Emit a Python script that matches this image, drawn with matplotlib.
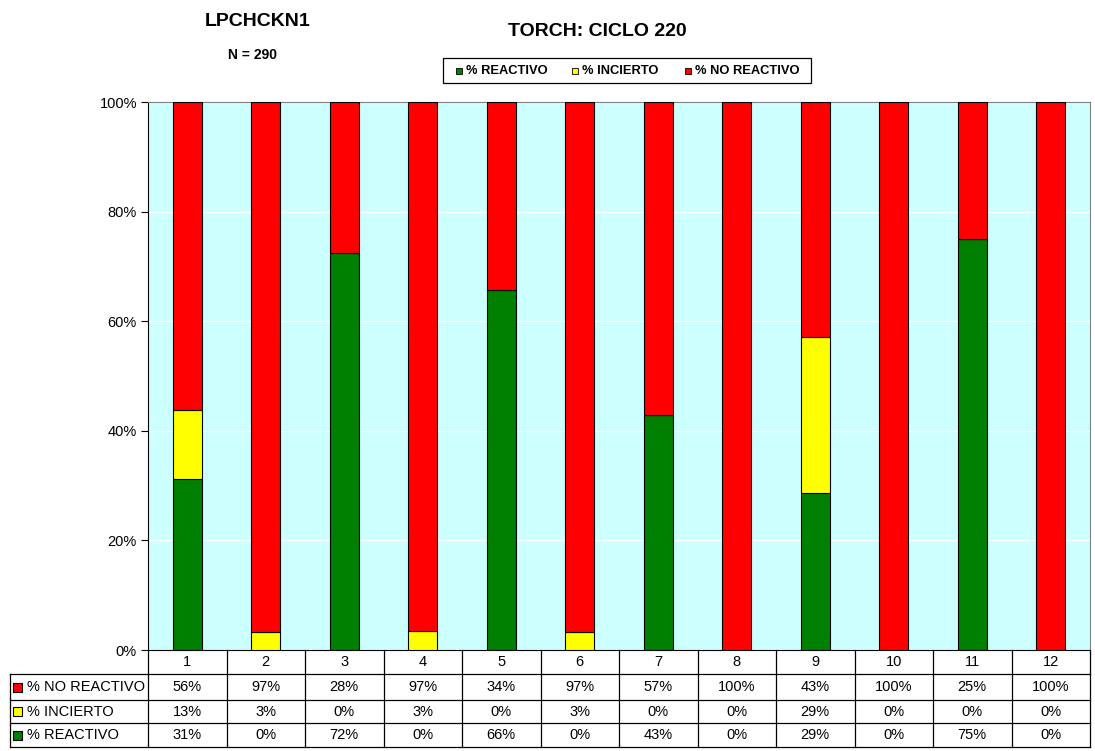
import numpy as np
import matplotlib.pyplot as plt
import matplotlib.transforms as mtransforms
from matplotlib.lines import Line2D
from matplotlib.patches import Rectangle

plt.rcParams['font.family'] = ['Liberation Sans', 'DejaVu Sans']

# Datos
categorias = ['1', '2', '3', '4', '5', '6', '7', '8', '9', '10', '11', '12']
reactivo = [31.25, 0, 72.4, 0, 65.7, 0, 42.86, 0, 28.57, 0, 75, 0]
incierto = [12.5, 3.3, 0, 3.5, 0, 3.3, 0, 0, 28.57, 0, 0, 0]
no_reactivo = [56.25, 96.7, 27.6, 96.5, 34.3, 96.7, 57.14, 100, 42.86, 100, 25, 100]
# valores mostrados en la tabla (redondeados como en el original)
tabla_no_reactivo = [56, 97, 28, 97, 34, 97, 57, 100, 43, 100, 25, 100]
tabla_incierto = [13, 3, 0, 3, 0, 3, 0, 0, 29, 0, 0, 0]
tabla_reactivo = [31, 0, 72, 0, 66, 0, 43, 0, 29, 0, 75, 0]
series = ['% NO REACTIVO', '% INCIERTO', '% REACTIVO']
colores = {'% REACTIVO': '#008000', '% INCIERTO': '#FFFF00', '% NO REACTIVO': '#FF0000'}

W, H = 1095, 751
fig = plt.figure(figsize=(W / 100, H / 100), dpi=100)
ax = fig.add_axes([148 / W, 1 - 650 / H, (1090 - 148) / W, (650 - 102) / H])
ax.set_facecolor('#CCFFFF')

x = np.arange(1, len(categorias) + 1)
ancho = 0.37
r = np.array(reactivo)
i_ = np.array(incierto)
n = np.array(no_reactivo)
ax.bar(x, r, ancho, color=colores['% REACTIVO'], edgecolor='black', linewidth=0.8, zorder=3)
ax.bar(x, i_, ancho, bottom=r, color=colores['% INCIERTO'], edgecolor='black', linewidth=0.8, zorder=3)
ax.bar(x, n, ancho, bottom=r + i_, color=colores['% NO REACTIVO'], edgecolor='black', linewidth=0.8, zorder=3)

ax.set_xlim(0.5, len(categorias) + 0.5)
ax.set_ylim(0, 100)
ax.set_yticks(np.arange(0, 101, 20))
ax.set_yticklabels([f'{v}%' for v in range(0, 101, 20)], fontsize=10.5)
ax.yaxis.grid(True, color='white', linewidth=1, zorder=1)
ax.set_xticks([])
ax.tick_params(axis='y', length=5, width=0.8, pad=3)
for s in ['top', 'right']:
    ax.spines[s].set_color('#808080')
ax.spines['left'].set_color('black')
ax.spines['bottom'].set_color('black')

# Tabla de datos
tr = mtransforms.blended_transform_factory(ax.transData, fig.transFigure)
def fy(py):
    return 1 - py / H

filas_y = [650, 674, 700, 723, 747]
kw = dict(color='black', linewidth=0.9)
# lineas verticales de columnas
for xv in np.arange(0.5, len(categorias) + 1, 1):
    fig.add_artist(Line2D([xv, xv], [fy(650), fy(747)], transform=tr, **kw))
# lineas horizontales
fig.add_artist(Line2D([148 / W, 1090 / W], [fy(674), fy(674)], transform=fig.transFigure, **kw))
for py in filas_y[2:]:
    fig.add_artist(Line2D([10 / W, 1090 / W], [fy(py), fy(py)], transform=fig.transFigure, **kw))
fig.add_artist(Line2D([10 / W, 148 / W], [fy(674), fy(674)], transform=fig.transFigure, **kw))
fig.add_artist(Line2D([10 / W, 10 / W], [fy(674), fy(747)], transform=fig.transFigure, **kw))

# encabezados
yc = (650 + 674) / 2
for xi, c in zip(x, categorias):
    fig.text(xi, fy(yc), c, transform=tr, ha='center', va='center', fontsize=10.5)

valores = {'% NO REACTIVO': tabla_no_reactivo, '% INCIERTO': tabla_incierto, '% REACTIVO': tabla_reactivo}
for k, nombre in enumerate(series):
    y0, y1 = filas_y[k + 1], filas_y[k + 2]
    ym = (y0 + y1) / 2
    for xi, v in zip(x, valores[nombre]):
        fig.text(xi, fy(ym), f'{v}%', transform=tr, ha='center', va='center', fontsize=10.5)
    fig.add_artist(Rectangle((13 / W, fy(ym + 4.5)), 9 / W, 9 / H, transform=fig.transFigure,
                             facecolor=colores[nombre], edgecolor='black', linewidth=0.8))
    fig.text(27 / W, fy(ym), nombre, ha='left', va='center', fontsize=10.5)

# titulos
fig.text(258 / W, fy(22), 'LPCHCKN1', ha='center', va='center', fontsize=14, fontweight='bold')
fig.text(252 / W, fy(55), 'N = 290', ha='center', va='center', fontsize=10, fontweight='bold')
fig.text(597 / W, fy(32), 'TORCH: CICLO 220', ha='center', va='center', fontsize=14, fontweight='bold')

# leyenda
fig.add_artist(Rectangle((443 / W, fy(83)), (811 - 443) / W, (83 - 58) / H, transform=fig.transFigure,
                         facecolor='white', edgecolor='black', linewidth=0.9))
leyenda = [('% REACTIVO', 456), ('% INCIERTO', 572), ('% NO REACTIVO', 685)]
for nombre, px in leyenda:
    fig.add_artist(Rectangle((px / W, fy(74)), 6 / W, 6 / H, transform=fig.transFigure,
                             facecolor=colores[nombre], edgecolor='black', linewidth=0.6))
    fig.text((px + 10) / W, fy(70.5), nombre, ha='left', va='center', fontsize=9.3, fontweight='bold',
             fontstretch='condensed')

fig.savefig('out.png', dpi=100, facecolor='white')
